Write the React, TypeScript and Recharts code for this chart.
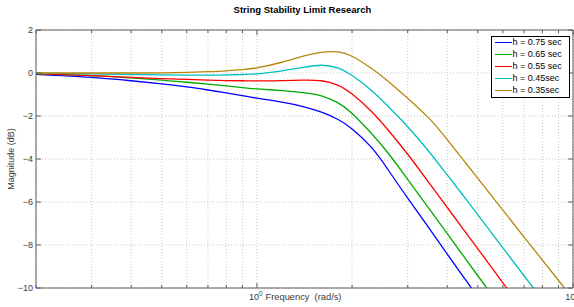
import { LineChart, Line, XAxis, YAxis, CartesianGrid, Legend } from 'recharts';

// frequency (rad/s), log axis
const freq = [0.2, 0.3, 0.4, 0.5, 0.6, 0.7, 0.8, 0.9, 1, 1.2, 1.4, 1.6, 1.8, 2, 2.3, 2.6, 3, 3.5, 4, 4.5, 5, 6, 7, 8, 9, 10];

// magnitude (dB)
const h075 = [-0.06, -0.2, -0.36, -0.51, -0.65, -0.79, -0.92, -1.05, -1.17, -1.35, -1.56, -1.82, -2.15, -2.6, -3.45, -4.5, -5.82, -7.2, -8.42, -9.48, -10.42, -12.05, -13.42, -14.6, -15.65, -16.58];
const h065 = [-0.04, -0.12, -0.23, -0.33, -0.43, -0.52, -0.6, -0.68, -0.74, -0.82, -0.91, -1.06, -1.38, -1.88, -2.8, -3.72, -4.95, -6.3, -7.47, -8.51, -9.43, -11.03, -12.39, -13.57, -14.61, -15.53];
const h055 = [-0.03, -0.12, -0.2, -0.26, -0.3, -0.33, -0.35, -0.36, -0.37, -0.35, -0.33, -0.36, -0.56, -0.98, -1.78, -2.65, -3.78, -5.1, -6.25, -7.27, -8.18, -9.76, -11.1, -12.26, -13.28, -14.19];
const h045 = [-0.01, -0.04, -0.07, -0.09, -0.1, -0.1, -0.09, -0.07, -0.04, 0.1, 0.26, 0.36, 0.24, -0.12, -0.8, -1.55, -2.5, -3.65, -4.74, -5.71, -6.6, -8.13, -9.43, -10.55, -11.54, -12.42];
const h035 = [0.0, 0.0, 0.0, 0.01, 0.03, 0.06, 0.1, 0.16, 0.24, 0.5, 0.78, 0.96, 0.98, 0.78, 0.22, -0.38, -1.18, -2.1, -3.1, -4.05, -4.9, -6.38, -7.63, -8.7, -9.65, -10.5];

const xTicks = [0.2, 0.3, 0.4, 0.5, 0.6, 0.7, 0.8, 0.9, 1, 2, 3, 4, 5, 6, 7, 8, 9, 10];
const yTicks = [-10, -8, -6, -4, -2, 0, 2];

const SERIES = [
    { key: 'h075', name: 'h = 0.75 sec', color: '#0000ff', values: h075 },
    { key: 'h065', name: 'h = 0.65 sec', color: '#00aa00', values: h065 },
    { key: 'h055', name: 'h = 0.55 sec', color: '#ff0000', values: h055 },
    { key: 'h045', name: 'h = 0.45sec', color: '#00bfbf', values: h045 },
    { key: 'h035', name: 'h = 0.35sec', color: '#b8860b', values: h035 },
];

const data = freq.map((w, i) => {
    const row: any = { w };
    SERIES.forEach((s) => { row[s.key] = s.values[i]; });
    return row;
});

const FONT = '"Liberation Sans", Arial, Helvetica, sans-serif';
const AXIS = '#5c5c5c';
const TEXT = '#3a3a3a';

const isMajor = (v: number) => v === 1 || v === 10;
const fmtY = (v: number) => (v < 0 ? '\u2212' + Math.abs(v) : String(v));

function BottomTick({ x, y, payload }: any) {
    const major = isMajor(payload.value);
    return (
        <g>
            <line x1={x} y1={y} x2={x} y2={y - (major ? 5 : 3)} stroke={AXIS} />
            {major && (
                <text x={x - 1} y={y + 12} textAnchor="middle" fontSize={9} fill={TEXT} fontFamily={FONT}>
                    10<tspan dy={-4} fontSize={6.5}>{Math.round(Math.log10(payload.value))}</tspan>
                </text>
            )}
        </g>
    );
}

function TopTick({ x, y, payload }: any) {
    const major = isMajor(payload.value);
    return <line x1={x} y1={y} x2={x} y2={y + (major ? 5 : 3)} stroke={AXIS} />;
}

function LeftTick({ x, y, payload }: any) {
    return (
        <g>
            <line x1={x} y1={y} x2={x + 5} y2={y} stroke={AXIS} />
            <text x={x - 3} y={y + 3} textAnchor="end" fontSize={9} fill={TEXT} fontFamily={FONT}>
                {fmtY(payload.value)}
            </text>
        </g>
    );
}

function RightTick({ x, y }: any) {
    return <line x1={x} y1={y} x2={x - 5} y2={y} stroke={AXIS} />;
}

function XLabel({ viewBox }: any) {
    return (
        <text x={viewBox.x + viewBox.width / 2 - 1} y={viewBox.y + 12} textAnchor="middle" fontSize={9.3}
            fill={TEXT} fontFamily={FONT} style={{ whiteSpace: 'pre' }}>
            Frequency  (rad/s)
        </text>
    );
}

function YLabel({ viewBox }: any) {
    const cx = viewBox.x + viewBox.width - 25;
    const cy = viewBox.y + viewBox.height / 2;
    return (
        <text x={cx} y={cy} transform={`rotate(-90 ${cx} ${cy})`} textAnchor="middle" dominantBaseline="central"
            fontSize={9} fill={TEXT} fontFamily={FONT}>
            Magnitude (dB)
        </text>
    );
}

function LegendBox() {
    return (
        <div style={{
            border: '1.5px solid #000', background: '#fff', padding: '0 2px 0 2.5px', boxSizing: 'border-box',
            width: 79, fontFamily: FONT, fontSize: 9, lineHeight: '11.9px', color: '#000',
        }}>
            {SERIES.map((s) => (
                <div key={s.key} style={{ display: 'flex', alignItems: 'center', whiteSpace: 'nowrap' }}>
                    <span style={{ display: 'inline-block', width: 17, height: 0, borderTop: `1.4px solid ${s.color}`, marginRight: 1 }} />
                    {s.name}
                </div>
            ))}
        </div>
    );
}

export default function App() {
    return (
        <div style={{ position: 'absolute', left: 0, top: 0, width: 574, height: 307, background: '#fff' }}>
            <div style={{
                position: 'absolute', left: 36, top: 4, width: 533, textAlign: 'center',
                fontFamily: FONT, fontSize: 9.5, fontWeight: 'bold', lineHeight: '12px', color: '#000', zIndex: 1,
            }}>
                String Stability Limit Research
            </div>
            <LineChart width={574} height={307} data={data} margin={{ top: 29, right: 0, bottom: 18, left: 35 }}>
                <CartesianGrid strokeDasharray="1 2" stroke="#c8c8c8" />
                <XAxis dataKey="w" type="number" scale="log" domain={[0.2, 10]} ticks={xTicks} allowDataOverflow
                    height={1} tickSize={0} tickMargin={0} tickLine={false} interval={0}
                    axisLine={{ stroke: AXIS }} tick={<BottomTick />} label={<XLabel />} />
                <XAxis xAxisId="top" orientation="top" dataKey="w" type="number" scale="log" domain={[0.2, 10]}
                    ticks={xTicks} allowDataOverflow height={1} tickSize={0} tickMargin={0} tickLine={false} interval={0}
                    axisLine={{ stroke: AXIS }} tick={<TopTick />} />
                <YAxis type="number" domain={[-10, 2]} ticks={yTicks} allowDataOverflow width={1}
                    tickSize={0} tickMargin={0} tickLine={false} interval={0}
                    axisLine={{ stroke: AXIS }} tick={<LeftTick />} label={<YLabel />} />
                <YAxis yAxisId="right" orientation="right" type="number" domain={[-10, 2]} ticks={yTicks}
                    allowDataOverflow width={1} tickSize={0} tickMargin={0} tickLine={false} interval={0}
                    axisLine={{ stroke: AXIS }} tick={<RightTick />} />
                <Legend layout="horizontal" verticalAlign="middle" align="center"
                    wrapperStyle={{ top: 36, left: 491, width: 79 }} content={() => <LegendBox />} />
                {SERIES.map((s) => (
                    <Line key={s.key} type="natural" dataKey={s.key} stroke={s.color} strokeWidth={1.3}
                        dot={false} activeDot={false} isAnimationActive={false} />
                ))}
            </LineChart>
        </div>
    );
}
